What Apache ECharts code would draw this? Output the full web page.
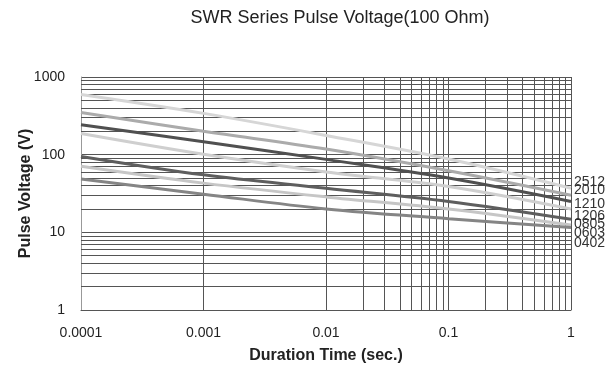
<!DOCTYPE html>
<html>
<head>
<meta charset="utf-8">
<script src="https://cdn.jsdelivr.net/npm/echarts@6/dist/echarts.min.js"></script>
<style>
  html, body { margin: 0; padding: 0; background: #fff; }
  #chart { width: 614px; height: 369px; }
</style>
</head>
<body>
<div id="chart"></div>
<script>
// duration time (sec.) sample points
const durations = [0.0001, 0.001, 0.01, 0.1, 1]

// pulse voltage (V) per size
const sizes = ['2512', '2010', '1210', '1206', '0805', '0603', '0402']
const v2512 = [595, 340, 177, 88, 37]
const v2010 = [350, 200, 118, 62, 30]
const v1210 = [243, 147, 87, 50, 25]
const v1206 = [187, 101, 60, 39, 20]
const v0805 = [95, 55, 37, 25, 14.7]
const v0603 = [71, 43, 28.6, 20, 12.4]
const v0402 = [48.5, 31, 20, 15, 11.5]
const voltages = [v2512, v2010, v1210, v1206, v0805, v0603, v0402]

const lineColors = ['#d6d6d6', '#ababab', '#505050', '#cfcfcf', '#5e5e5e', '#c6c6c6', '#858585']
const labelOffsets = [-6, -5, 3, 7, 5, 8, 16] // spread end labels like the original

// minor grid lines at 2..9 of each decade
const minorX = []
for (let e = -4; e < 0; e++) {
  for (let m = 2; m <= 9; m++) minorX.push(m * Math.pow(10, e))
}
const minorY = []
for (let e = 0; e < 3; e++) {
  for (let m = 2; m <= 9; m++) minorY.push(m * Math.pow(10, e))
}

const fmt = v => String(+Number(v).toPrecision(6))

const chart = echarts.init(document.getElementById('chart'))

const series = sizes.map((name, i) => ({
  name,
  type: 'line',
  smooth: 0.35,
  symbol: 'none',
  z: 5,
  lineStyle: { color: lineColors[i], width: 3 },
  data: durations.map((d, j) => [d, voltages[i][j]]),
  endLabel: {
    show: true,
    formatter: '{a}',
    distance: 3,
    offset: [0, labelOffsets[i]],
    fontFamily: 'Liberation Sans Narrow, Liberation Sans, Arial',
    fontSize: 14,
    color: '#333'
  }
}))

// grid helper: minor lines only
series.push({
  type: 'line',
  data: [],
  silent: true,
  z: 1,
  markLine: {
    silent: true,
    symbol: 'none',
    animation: false,
    label: { show: false },
    lineStyle: { color: '#555', width: 1, type: 'solid' },
    data: minorX.map(v => ({ xAxis: v })).concat(minorY.map(v => ({ yAxis: v })))
  }
})

chart.setOption({
  animation: false,
  textStyle: { fontFamily: 'Liberation Sans, Arial' },
  title: {
    text: 'SWR Series Pulse Voltage(100 Ohm)',
    left: 335,
    top: 4,
    textAlign: 'center',
    textStyle: { fontSize: 18, fontWeight: 'normal', color: '#222' }
  },
  grid: { left: 81, right: 43, top: 77, bottom: 53 },
  xAxis: {
    type: 'log',
    logBase: 10,
    min: 0.0001,
    max: 1,
    name: 'Duration Time (sec.)',
    nameLocation: 'middle',
    nameGap: 38,
    nameMoveOverlap: false,
    nameTextStyle: { fontSize: 16, fontWeight: 'bold', color: '#222' },
    axisLine: { show: true, lineStyle: { color: '#555' } },
    axisTick: { show: false },
    axisLabel: { fontSize: 14, color: '#222', margin: 16, formatter: fmt },
    splitLine: { show: true, lineStyle: { color: '#555', width: 1 } }
  },
  yAxis: {
    type: 'log',
    logBase: 10,
    min: 1,
    max: 1000,
    name: 'Pulse Voltage (V)',
    nameLocation: 'middle',
    nameGap: 47,
    nameMoveOverlap: false,
    nameTextStyle: { fontSize: 16, fontWeight: 'bold', color: '#222' },
    axisLine: { show: true, lineStyle: { color: '#999' } },
    axisTick: { show: false },
    axisLabel: { fontSize: 14, color: '#222', margin: 16, formatter: fmt },
    splitLine: { show: true, lineStyle: { color: '#555', width: 1 } }
  },
  series
})
</script>
</body>
</html>
